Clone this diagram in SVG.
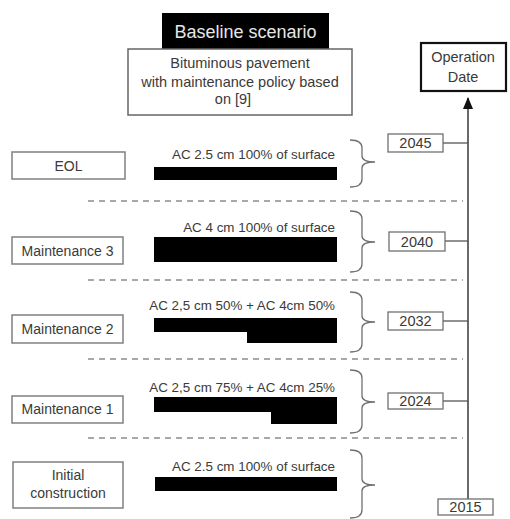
<svg xmlns="http://www.w3.org/2000/svg" width="510" height="519" viewBox="0 0 510 519">
<defs>
<style>
text{font-family:"Liberation Sans",Arial,sans-serif;fill:#3a3a3a;font-size:13.4px}
.c{text-anchor:middle}
.r{text-anchor:end}
.lb{font-size:14px}
.yt{font-size:14.5px}
.box{fill:#fff;stroke:#808080;stroke-width:1.5}
.yr{fill:#fff;stroke:#707070;stroke-width:1.3}
.bar{fill:#000}
.dash{stroke:#8c8c8c;stroke-width:1.5;stroke-dasharray:6 5;fill:none}
.brace{fill:none;stroke:#707070;stroke-width:1.3}
.ln{stroke:#555;stroke-width:1.3;fill:none}
</style>
<marker id="ah" viewBox="0 0 12 10" refX="11" refY="5" markerWidth="12" markerHeight="10" markerUnits="userSpaceOnUse" orient="auto">
<path d="M0,0 L12,5 L0,10 Z" fill="#111"/>
</marker>
</defs>
<rect width="510" height="519" fill="#fff"/>

<g id="title">
<rect x="162" y="13" width="167" height="36" fill="#000"/>
<text x="245.5" y="38" class="c" style="fill:#e6e6e6;font-size:18px">Baseline scenario</text>
</g>
<g id="subtitle">
<rect x="128" y="49" width="224" height="66" class="box" style="stroke:#666"/>
<text x="240" y="68" class="c" style="font-size:14.5px">Bituminous pavement</text>
<text x="240" y="87" class="c" style="font-size:14.5px">with maintenance policy based</text>
<text x="233" y="104" class="c" style="font-size:14.5px">on [9]</text>
</g>
<g id="operation-date">
<rect x="421" y="43" width="85" height="48" fill="#fff" stroke="#111" stroke-width="2.2"/>
<text x="463" y="62" class="c yt">Operation</text>
<text x="463" y="82" class="c yt">Date</text>
</g>

<g id="connectors">
<line x1="468" y1="499" x2="468" y2="98" class="ln" style="stroke:#444;stroke-width:1.6" marker-end="url(#ah)"/>
<line x1="443" y1="143" x2="468" y2="143" class="ln"/>
<line x1="445" y1="241" x2="468" y2="241" class="ln"/>
<line x1="443" y1="321" x2="468" y2="321" class="ln"/>
<line x1="443" y1="401" x2="468" y2="401" class="ln"/>
<line x1="88" y1="201" x2="463" y2="201" class="dash"/>
<line x1="88" y1="280" x2="463" y2="280" class="dash"/>
<line x1="88" y1="359" x2="463" y2="359" class="dash"/>
<line x1="88" y1="438" x2="463" y2="438" class="dash"/>
</g>

<g id="eol">
<rect x="12" y="152" width="113" height="27" class="box"/>
<text x="68.5" y="171" class="c lb">EOL</text>
<text x="335" y="159" class="r">AC 2.5 cm 100% of surface</text>
<rect x="154" y="167" width="183" height="13" class="bar"/>
<path d="M350,140 Q362,140 362,148 L362,156 Q362,162 375,162 Q362,162 362,168 L362,179 Q362,187 350,187" class="brace"/>
<rect x="388" y="134" width="55" height="18" class="yr"/>
<text x="415.5" y="148" class="c yt">2045</text>
</g>

<g id="maintenance-3">
<rect x="12" y="237" width="111" height="27" class="box"/>
<text x="67.5" y="256" class="c lb">Maintenance 3</text>
<text x="335" y="232" class="r">AC 4 cm 100% of surface</text>
<rect x="154" y="237" width="183" height="25" class="bar"/>
<path d="M350,211 Q362,211 362,219 L362,236 Q362,242 375,242 Q362,242 362,248 L362,264 Q362,272 350,272" class="brace"/>
<rect x="389" y="232" width="56" height="19" class="yr"/>
<text x="417" y="247" class="c yt">2040</text>
</g>

<g id="maintenance-2">
<rect x="12" y="315" width="111" height="28" class="box"/>
<text x="67.5" y="334" class="c lb">Maintenance 2</text>
<text x="335" y="310" class="r">AC 2,5 cm 50% + AC 4cm 50%</text>
<path d="M154,318 H337 V343 H247 V332 H154 Z" class="bar"/>
<path d="M350,292 Q362,292 362,300 L362,316 Q362,322 375,322 Q362,322 362,328 L362,344 Q362,352 350,352" class="brace"/>
<rect x="388" y="312" width="55" height="18" class="yr"/>
<text x="415.5" y="326" class="c yt">2032</text>
</g>

<g id="maintenance-1">
<rect x="12" y="396" width="111" height="27" class="box"/>
<text x="67.5" y="414" class="c lb">Maintenance 1</text>
<text x="335" y="392" class="r">AC 2,5 cm 75% + AC 4cm 25%</text>
<path d="M154,397 H337 V424 H271 V412 H154 Z" class="bar"/>
<path d="M350,370 Q362,370 362,378 L362,396 Q362,402 375,402 Q362,402 362,408 L362,425 Q362,433 350,433" class="brace"/>
<rect x="388" y="393" width="55" height="16" class="yr"/>
<text x="415.5" y="406" class="c yt">2024</text>
</g>

<g id="initial-construction">
<rect x="13" y="462" width="110" height="46" class="box"/>
<text x="68" y="480" class="c lb">Initial</text>
<text x="68" y="498" class="c lb">construction</text>
<text x="335" y="471" class="r">AC 2.5 cm 100% of surface</text>
<rect x="155" y="477" width="182" height="14" class="bar"/>
<path d="M350,450 Q362,450 362,458 L362,479 Q362,485 375,485 Q362,485 362,491 L362,510 Q362,518 350,518" class="brace"/>
<rect x="438" y="499" width="55" height="16" class="yr"/>
<text x="465.5" y="512" class="c yt">2015</text>
</g>
</svg>
